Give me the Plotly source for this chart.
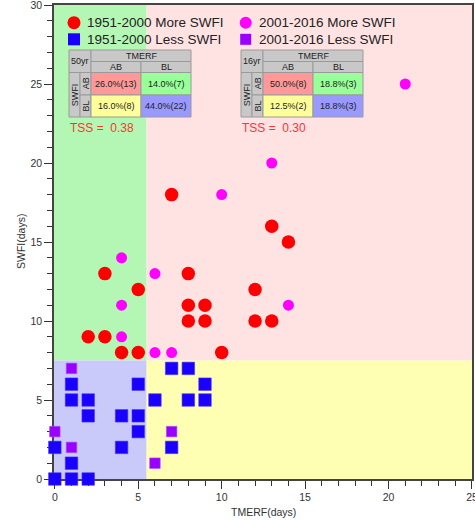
import plotly.graph_objects as go

# ---------------- data ----------------
red_x = [2, 3, 3, 4, 5, 5, 7, 8, 8, 9, 8, 9, 10, 12, 12, 13, 13, 14]
red_y = [9, 9, 13, 8, 8, 12, 18, 13, 11, 11, 10, 10, 8, 12, 10, 10, 16, 15]
mag_x = [4, 4, 4, 6, 6, 7, 10, 13, 14, 21]
mag_y = [14, 11, 9, 13, 8, 8, 18, 20, 11, 25]
blue_x = [1, 5, 1, 2, 2, 4, 5, 5, 0, 4, 1, 0, 1, 2, 7, 8, 9, 6, 8, 9, 7]
blue_y = [6, 6, 5, 5, 4, 4, 4, 3, 2, 2, 1, 0, 0, 0, 7, 7, 6, 5, 5, 5, 2]
purple_x = [1, 0, 1, 6, 7]
purple_y = [7, 3, 2, 1, 3]

legend_labels = ["1951-2000 More SWFI", "1951-2000 Less SWFI",
                 "2001-2016 More SWFI", "2001-2016 Less SWFI"]

table1_corner = "50yr"
table1_cells = ["26.0%(13)", "14.0%(7)", "16.0%(8)", "44.0%(22)"]
table1_tss = "TSS =\u00a0\u00a00.38"
table2_corner = "16yr"
table2_cells = ["50.0%(8)", "18.8%(3)", "12.5%(2)", "18.8%(3)"]
table2_tss = "TSS =\u00a0\u00a00.30"

x_thresh = 5.5
y_thresh = 7.5

# ---------------- style ----------------
FONT = "Liberation Sans, Arial, Helvetica, sans-serif"
W, H = 475, 520
ML, MR, MT, MB = 54, 3, 5, 41
PW, PH = W - ML - MR, H - MT - MB
XR = [-0.05, 25.001]
YR = [0, 30.001]

C_RED = "#ff0000"
C_MAG = "#ff00ff"
C_BLUE = "#1a00ff"
C_PUR = "#9900ff"


def px(x):
    return (x - ML) / PW


def py(y):
    return (H - MB - y) / PH


fig = go.Figure()

fig.add_trace(go.Scatter(x=red_x, y=red_y, mode="markers", cliponaxis=False,
                         marker=dict(symbol="circle", size=13.5, color=C_RED, line=dict(width=0)),
                         showlegend=False))
fig.add_trace(go.Scatter(x=blue_x, y=blue_y, mode="markers", cliponaxis=False,
                         marker=dict(symbol="square", size=12.5, color=C_BLUE,
                                     line=dict(width=0.6, color="#4433ff")),
                         showlegend=False))
fig.add_trace(go.Scatter(x=mag_x, y=mag_y, mode="markers", cliponaxis=False,
                         marker=dict(symbol="circle", size=11, color=C_MAG, line=dict(width=0)),
                         showlegend=False))
fig.add_trace(go.Scatter(x=purple_x, y=purple_y, mode="markers", cliponaxis=False,
                         marker=dict(symbol="square", size=10.5, color=C_PUR,
                                     line=dict(width=0.6, color="#aa44ff")),
                         showlegend=False))

shapes = []
annots = []

# background quadrants
quads = [
    (XR[0], x_thresh, y_thresh, YR[1], "#b4f7b4"),
    (x_thresh, XR[1], y_thresh, YR[1], "#ffe3e3"),
    (XR[0], x_thresh, YR[0], y_thresh, "#cacafa"),
    (x_thresh, XR[1], YR[0], y_thresh, "#ffffb4"),
]
for x0, x1, y0, y1, c in quads:
    shapes.append(dict(type="rect", xref="x", yref="y", x0=x0, x1=x1, y0=y0, y1=y1,
                       fillcolor=c, line=dict(width=0), layer="below"))


# legend glyphs (drawn manually)
def legend_item(cx, cy, kind, color, size, label):
    h = size / 2
    shapes.append(dict(type="circle" if kind == "circle" else "rect",
                       xref="paper", yref="paper",
                       x0=px(cx - h), x1=px(cx + h), y0=py(cy + h), y1=py(cy - h),
                       fillcolor=color, line=dict(width=0)))
    annots.append(dict(xref="paper", yref="paper", x=px(cx + 11), y=py(cy),
                       xanchor="left", yanchor="middle", text=label, showarrow=False,
                       font=dict(family=FONT, size=13.5, color="#222")))


legend_item(74, 22.7, "circle", C_RED, 13, legend_labels[0])
legend_item(74, 39.3, "rect", C_BLUE, 12, legend_labels[1])
legend_item(245.7, 22.7, "circle", C_MAG, 12, legend_labels[2])
legend_item(245.7, 39.3, "rect", C_PUR, 11, legend_labels[3])

# contingency tables
GRAY = "#c8c8c8"
BORDER = "#9a9a9a"
CELL_COLORS = ["#ff9999", "#99ff99", "#ffff99", "#9999ff"]


def cell(x0, x1, y0, y1, fill, text=None, angle=0):
    shapes.append(dict(type="rect", xref="paper", yref="paper",
                       x0=px(x0), x1=px(x1), y0=py(y1), y1=py(y0),
                       fillcolor=fill, line=dict(width=1, color=BORDER)))
    if text:
        annots.append(dict(xref="paper", yref="paper", x=px((x0 + x1) / 2), y=py((y0 + y1) / 2),
                           xanchor="center", yanchor="middle", text=text, showarrow=False,
                           textangle=angle, font=dict(family=FONT, size=9, color="#222")))


def table(L, T, corner, cells, tss):
    cs = [L, L + 11, L + 22, L + 72, L + 122]
    rs = [T, T + 11.5, T + 22.5, T + 45, T + 67]
    cell(cs[0], cs[2], rs[0], rs[2], GRAY, corner)
    cell(cs[2], cs[4], rs[0], rs[1], GRAY, "TMERF")
    cell(cs[2], cs[3], rs[1], rs[2], GRAY, "AB")
    cell(cs[3], cs[4], rs[1], rs[2], GRAY, "BL")
    cell(cs[0], cs[1], rs[2], rs[4], GRAY, "SWFI", -90)
    cell(cs[1], cs[2], rs[2], rs[3], GRAY, "AB", -90)
    cell(cs[1], cs[2], rs[3], rs[4], GRAY, "BL", -90)
    cell(cs[2], cs[3], rs[2], rs[3], CELL_COLORS[0], cells[0])
    cell(cs[3], cs[4], rs[2], rs[3], CELL_COLORS[1], cells[1])
    cell(cs[2], cs[3], rs[3], rs[4], CELL_COLORS[2], cells[2])
    cell(cs[3], cs[4], rs[3], rs[4], CELL_COLORS[3], cells[3])
    annots.append(dict(xref="paper", yref="paper", x=px(L - 1), y=py(T + 78),
                       xanchor="left", yanchor="middle", text=tss, showarrow=False,
                       font=dict(family=FONT, size=12, color="#ff3333")))


table(69, 50, table1_corner, table1_cells, table1_tss)
table(241, 50, table2_corner, table2_cells, table2_tss)

# axis titles
annots.append(dict(xref="paper", yref="paper", x=0.5, y=py(511.5), xanchor="center",
                   yanchor="middle", text="TMERF(days)", showarrow=False,
                   font=dict(family=FONT, size=10.5, color="#333")))
annots.append(dict(xref="paper", yref="paper", x=px(21), y=py(242), xanchor="center",
                   yanchor="middle", text="SWFI(days)", showarrow=False, textangle=-90,
                   font=dict(family=FONT, size=10.5, color="#333")))

axis_common = dict(showgrid=False, zeroline=False, showline=True, mirror=True,
                   linecolor="#444", linewidth=1.5, ticks="outside", ticklen=8,
                   tickwidth=1.3, tickcolor="#333", dtick=5, layer="below traces",
                   ticklabeloverflow="allow", automargin=False,
                   tickfont=dict(family=FONT, size=10.5, color="#333"),
                   minor=dict(ticks="outside", ticklen=5, tickwidth=1, tickcolor="#333", dtick=1))

fig.update_layout(
    width=W, height=H,
    margin=dict(l=ML, r=MR, t=MT, b=MB, pad=0, autoexpand=False),
    paper_bgcolor="white", plot_bgcolor="white",
    xaxis=dict(range=XR, tick0=0, **axis_common),
    yaxis=dict(range=YR, tick0=0, **axis_common),
    shapes=shapes, annotations=annots, showlegend=False,
)

fig.write_html("out.html")
